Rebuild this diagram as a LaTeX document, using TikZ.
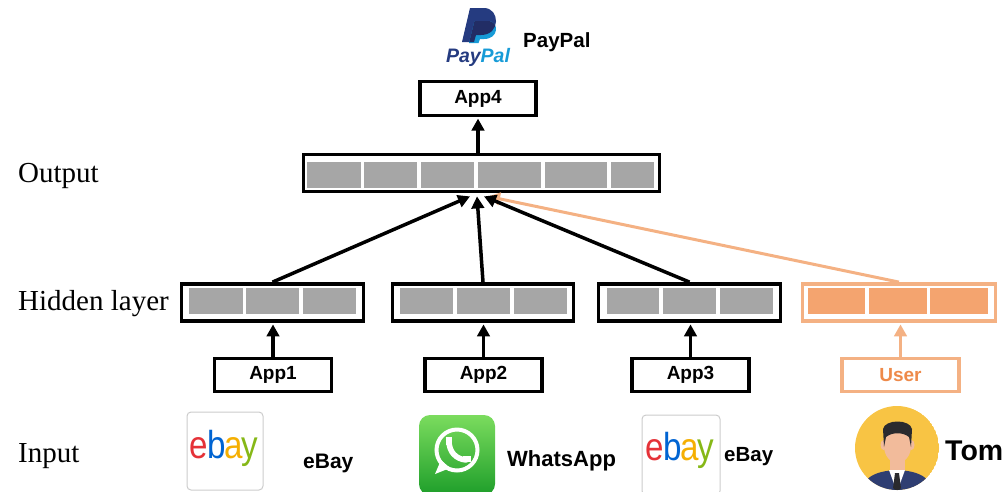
\documentclass[tikz,border=0pt]{standalone}
\usepackage{fontspec}
\setmainfont{Liberation Serif}
\newfontfamily\lsans{Liberation Sans}
\usetikzlibrary{arrows.meta,calc}
\definecolor{cellgray}{HTML}{A6A6A6}
\definecolor{orgline}{HTML}{F4B183}
\definecolor{orgfill}{HTML}{F4A46F}
\definecolor{orgtext}{HTML}{EE8A4A}
\definecolor{ppdark}{HTML}{253B80}
\definecolor{pplight}{HTML}{179BD7}
\definecolor{ppmid}{HTML}{222D65}
\definecolor{ebred}{HTML}{E53238}
\definecolor{ebblue}{HTML}{0064D2}
\definecolor{ebyel}{HTML}{F5AF02}
\definecolor{ebgreen}{HTML}{86B817}
\definecolor{walight}{HTML}{7BDC5E}
\definecolor{wadark}{HTML}{1E9E2A}
\definecolor{avyellow}{HTML}{F8C444}
\definecolor{avskin}{HTML}{F2BB9B}
\definecolor{avhair}{HTML}{2A2A2E}
\definecolor{avsuit}{HTML}{2F3E72}
\tikzset{
  layerbox/.style={draw=black, line width=3.8pt, inner sep=0pt, minimum height=37pt},
  appbox/.style={draw=black, line width=3.2pt, inner sep=0pt, minimum width=117pt, minimum height=33pt,
    font=\lsans\bfseries\fontsize{19}{19}\selectfont},
  cell/.style={fill=cellgray},
  ocell/.style={fill=orgfill},
  arr/.style={line width=3.5pt, -{Triangle[length=12pt,width=12.5pt]}},
  rowlabel/.style={anchor=base west, inner sep=0pt, font=\fontsize{29}{29}\selectfont},
  sidetext/.style={anchor=base west, inner sep=0pt, font=\lsans\bfseries}
}
\begin{document}
\begin{tikzpicture}[x=1pt,y=-1pt]
\useasboundingbox (0,0) rectangle (1008,491);

% row labels
\node[rowlabel] (lout) at (18,182) {Output};
\node[rowlabel] (lhid) at (18,310) {Hidden layer};
\node[rowlabel] (lin) at (18,462) {Input};

% output layer
\node[layerbox, minimum width=356pt] (out) at (481.5,173) {};
\fill[cell] (307,162) rectangle (361,188);
\fill[cell] (364,162) rectangle (417,188);
\fill[cell] (421,162) rectangle (474,188);
\fill[cell] (478,162) rectangle (541,188);
\fill[cell] (545,162) rectangle (607,188);
\fill[cell] (611,162) rectangle (654,188);

% top application
\node[appbox, minimum width=116pt, minimum height=34pt] (app4) at (478,98.5) {App4};

% hidden layers
\node[layerbox, minimum width=182pt] (h1) at (272.5,302.5) {};
\fill[cell] (189,288) rectangle (243,314);
\fill[cell] (246,288) rectangle (299,314);
\fill[cell] (303,288) rectangle (356,314);

\node[layerbox, minimum width=181pt] (h2) at (483,302.5) {};
\fill[cell] (400,288) rectangle (453,314);
\fill[cell] (457,288) rectangle (510,314);
\fill[cell] (514,288) rectangle (567,314);

\node[layerbox, minimum width=182pt] (h3) at (689.5,302.5) {};
\fill[cell] (607,288) rectangle (659,314);
\fill[cell] (663,288) rectangle (716,314);
\fill[cell] (720,288) rectangle (773,314);

\node[layerbox, draw=orgline, minimum width=193pt] (hu) at (899,302.5) {};
\fill[ocell] (808,288) rectangle (865,314);
\fill[ocell] (869,288) rectangle (927,314);
\fill[ocell] (930,288) rectangle (988,314);

% input applications
\node[appbox] (app1) at (273,375) {App1};
\node[appbox] (app2) at (483.5,375) {App2};
\node[appbox] (app3) at (690.5,375) {App3};
\node[appbox, draw=orgline, text=orgtext] (user) at (900.5,375) {User};

% arrow targets under the output layer
\coordinate (t1) at ($(out.south)+(-11.5,3)$);
\coordinate (t2) at ($(out.south)+(-4.5,3)$);
\coordinate (t3) at ($(out.south)+(2.5,3)$);
\coordinate (t4) at ($(out.south)+(6.5,3)$);

% connectors
\draw[arr, draw=orgline, line width=3pt] (hu.north) -- (t4);
\draw[arr] (h1.north) -- (t1);
\draw[arr] (h2.north) -- (t2);
\draw[arr] (h3.north) -- (t3);
\draw[arr, shorten >=1.5pt] (app4.south |- out.north) -- (app4.south);
\draw[arr, shorten >=1.5pt] (app1.north) -- (app1.north |- h1.south);
\draw[arr, shorten >=1.5pt] (app2.north) -- (app2.north |- h2.south);
\draw[arr, shorten >=1.5pt] (app3.north) -- (app3.north |- h3.south);
\draw[arr, draw=orgline, shorten >=1.5pt] (user.north) -- (user.north |- hu.south);

% PayPal logo
\def\darkP{(462,42) -- (470,8) -- (484,8) .. controls (500,8) and (501,35) .. (481,35) -- (476,35) -- (474,42) -- cycle}
\def\lightP{(469,43) -- (474.5,21) -- (489,21) .. controls (499,22) and (499,39) .. (484,39) -- (480,39) -- (478.5,43) -- cycle}
\fill[ppdark] \darkP;
\fill[pplight] \lightP;
\begin{scope}
  \clip \darkP;
  \fill[ppmid] \lightP;
\end{scope}
\node[inner sep=0pt, anchor=base] (pplogo) at (478,62)
  {\lsans\bfseries\itshape\fontsize{19.5}{19.5}\selectfont\textcolor{ppdark}{Pay}\textcolor{pplight}{Pal}};
\node[sidetext, font=\lsans\bfseries\fontsize{20.5}{20.5}\selectfont] (pptext) at (523,47) {PayPal};

% eBay logos
\draw[draw=black!20, line width=1pt, fill=white, rounded corners=4pt] (187,412) rectangle (263,490);
\node[inner sep=0pt, xscale=0.85] (eb1) at (224,448)
  {\lsans\fontsize{39}{39}\selectfont\textcolor{ebred}{e}\kern-1.5pt\textcolor{ebblue}{b}\kern-1.5pt\textcolor{ebyel}{a}\kern-1.5pt\textcolor{ebgreen}{y}};
\node[sidetext, font=\lsans\bfseries\fontsize{21}{21}\selectfont] (ebt1) at (303,468) {eBay};

\draw[draw=black!20, line width=1pt, fill=white, rounded corners=4pt] (642,415) rectangle (720,495);
\node[inner sep=0pt, xscale=0.85] (eb2) at (680,450)
  {\lsans\fontsize{39}{39}\selectfont\textcolor{ebred}{e}\kern-1.5pt\textcolor{ebblue}{b}\kern-1.5pt\textcolor{ebyel}{a}\kern-1.5pt\textcolor{ebgreen}{y}};
\node[sidetext, font=\lsans\bfseries\fontsize{20.5}{20.5}\selectfont] (ebt2) at (724,461) {eBay};

% WhatsApp logo
\shade[top color=walight, bottom color=wadark, rounded corners=11pt] (419,415) rectangle (495,495);
\draw[white, line width=4pt] (457,450) circle (20.5);
\fill[white] (441,460) -- (435,474) -- (450,468) -- cycle;
\draw[white, line width=5.5pt, line cap=round] (449,441) .. controls (449,452) and (456,459) .. (466,460);
\fill[white] (446,437) rectangle (452,445);
\fill[white] (463,456) rectangle (471,462);
\node[sidetext, font=\lsans\bfseries\fontsize{22}{22}\selectfont] (wat) at (507,466) {WhatsApp};

% avatar
\begin{scope}
  \clip (897,448) circle (42);
  \fill[avyellow] (897,448) circle (42);
  \fill[avskin] (890,455) rectangle (905,474);
  \fill[avsuit] (860,495) .. controls (862,478) and (874,471) .. (897,470)
    .. controls (920,471) and (932,478) .. (934,495) -- cycle;
  \fill[white] (889,470) -- (897,492) -- (905,470) -- cycle;
  \fill[avhair] (895,473) -- (899,473) -- (901,488) -- (897,492) -- (893,488) -- cycle;
  \fill[avskin] (883.5,445) ellipse (3 and 5);
  \fill[avskin] (911.5,445) ellipse (3 and 5);
  \fill[avskin] (897.5,446) ellipse (13.5 and 17);
  \fill[avhair] (884,447) -- (883,429) .. controls (885,419) and (910,419) .. (912,429)
    -- (911,447) -- (909,437) .. controls (903,432) and (892,432) .. (886,437) -- cycle;
\end{scope}
\node[sidetext, font=\lsans\bfseries\fontsize{28.5}{28.5}\selectfont] (tom) at (945,460) {Tom};

\end{tikzpicture}
\end{document}
